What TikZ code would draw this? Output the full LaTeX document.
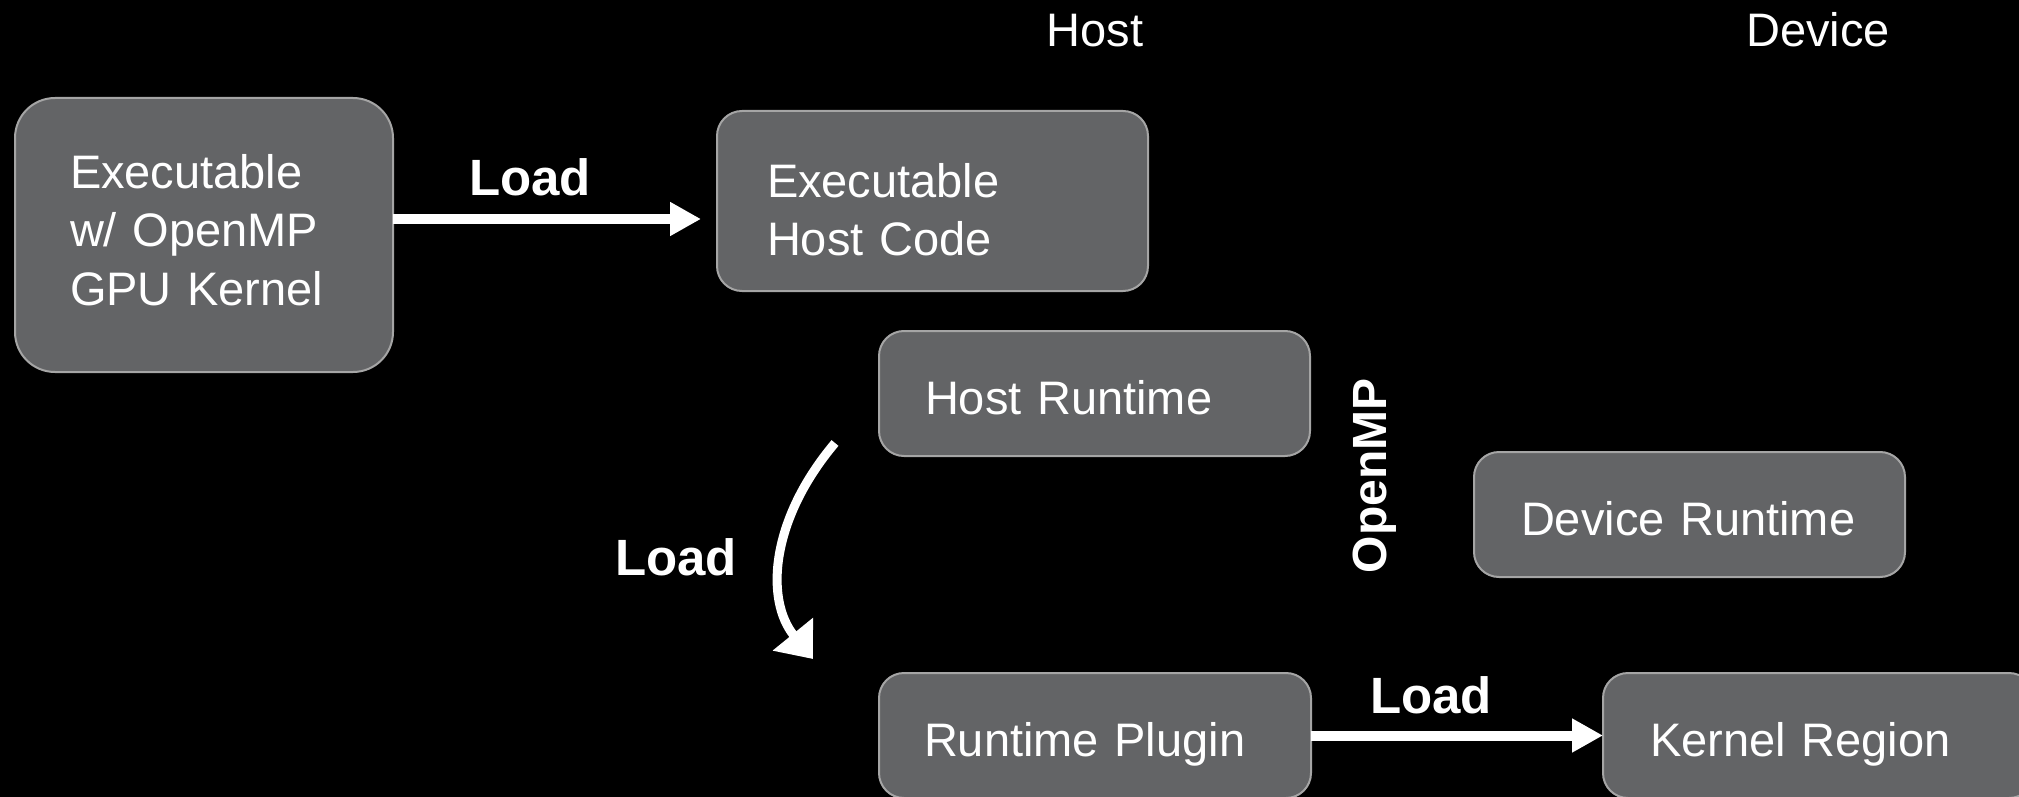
\documentclass[tikz,border=0pt]{standalone}
\usepackage{fontspec}
\setmainfont{Liberation Sans}
\usetikzlibrary{arrows.meta}
\definecolor{boxfill}{RGB}{99,100,102}
\definecolor{boxline}{RGB}{165,165,165}
\begin{document}
\begin{tikzpicture}[x=1pt,y=-1pt,
  box/.style={draw=boxline, line width=2pt, fill=boxfill, text=white, outer sep=0pt,
    inner ysep=0pt, anchor=north west, align=left, rounded corners=25pt,
    font=\fontsize{47}{58.5}\selectfont},
  oneline/.style={text height=42pt, text depth=0pt, minimum height=125pt},
  lbl/.style={text=white, font=\fontsize{47}{56}\selectfont, anchor=base, inner sep=0pt},
  loadlbl/.style={text=white, font=\fontsize{51}{60}\selectfont\bfseries, anchor=base, inner sep=0pt},
  flow/.style={draw=white, line width=10pt, -{Triangle[length=31pt,width=32pt]}},
  curveflow/.style={draw=white, line width=9pt, -{Triangle[length=32pt,width=50pt]}},
]
\fill[black] (0,0) rectangle (2019,797);
\useasboundingbox (0,0) rectangle (2019,797);

% boxes
\node[box, rounded corners=40pt, inner xsep=55pt, text width=268pt, minimum height=274pt,
      text height=42pt, text depth=136pt] (exe) at (15,98)
      {Executable\\w/ OpenMP\\GPU Kernel};
\node[box, inner xsep=50pt, text width=331pt, minimum height=180pt,
      text height=42pt, text depth=50pt] (hc) at (717,111)
      {Executable\\Host Code};
\node[box, oneline, inner xsep=46pt, text width=339pt] (hr) at (879,331) {Host Runtime};
\node[box, oneline, inner xsep=47pt, text width=337pt] (dr) at (1474,452) {Device Runtime};
\node[box, oneline, inner xsep=45pt, text width=342pt] (rp) at (879,673) {Runtime Plugin};
\node[box, oneline, inner xsep=47pt, text width=337pt] (kr) at (1603,673) {Kernel Region};

% headers and labels
\node[lbl] (host) at (1095,47) {Host};
\node[lbl] (device) at (1818,47) {Device};
\node[loadlbl, font=\fontsize{48}{56}\selectfont\bfseries, rotate=90] (openmp) at (1386,476) {OpenMP};
\node[loadlbl] (load1) at (530,195) {Load};
\node[loadlbl] (load2) at (676,575) {Load};
\node[loadlbl] (load3) at (1431,713) {Load};

% connectors
\coordinate (a1e) at (701,219);
\draw[flow] (exe.east |- a1e) -- (a1e);
\draw[flow] (rp.east) -- (kr.west);
\coordinate (c1s) at (835,443);
\coordinate (c1e) at (813,659);
\draw[curveflow] (c1s) .. controls (770,520) and (765,600) .. (c1e);
\end{tikzpicture}
\end{document}
